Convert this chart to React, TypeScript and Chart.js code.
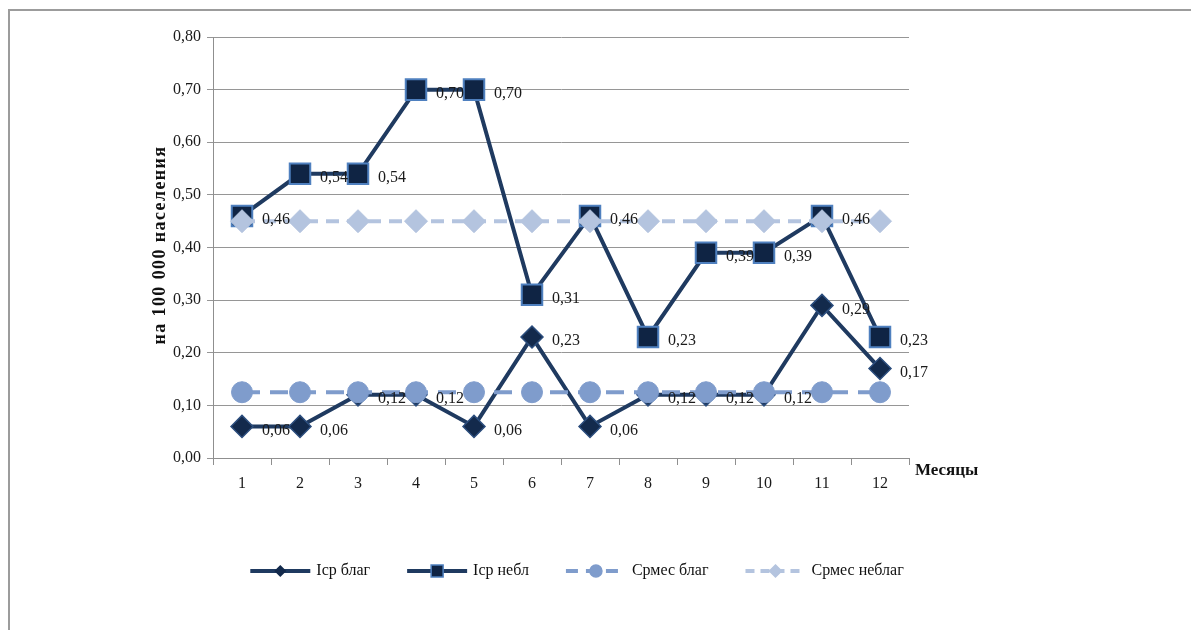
import React, { useEffect, useRef } from "react";
import { Chart, registerables } from "chart.js";

Chart.register(...registerables);

const months = ["1", "2", "3", "4", "5", "6", "7", "8", "9", "10", "11", "12"];
const icpBlag = [0.06, 0.06, 0.12, 0.12, 0.06, 0.23, 0.06, 0.12, 0.12, 0.12, 0.29, 0.17];
const icpNebl = [0.46, 0.54, 0.54, 0.7, 0.7, 0.31, 0.46, 0.23, 0.39, 0.39, 0.46, 0.23];
const srmesBlag = [0.125, 0.125, 0.125, 0.125, 0.125, 0.125, 0.125, 0.125, 0.125, 0.125, 0.125, 0.125];
const srmesNeblag = [0.45, 0.45, 0.45, 0.45, 0.45, 0.45, 0.45, 0.45, 0.45, 0.45, 0.45, 0.45];
const seriesNames = ["Iср благ", "Iср небл", "Срмес благ", "Срмес неблаг"];
const yTitle = "на 100 000 населения";
const xTitle = "Месяцы";

const FONT = "'Liberation Serif', 'Times New Roman', serif";
const fmt = (v: number) => v.toFixed(2).replace(".", ",");

const C_DARK = "#1f3a60";
const C_DIAM = "#132a4c";
const C_SQ = "#0f2444";
const C_SQB = "#4f80bf";
const C_BLAG = "#7f9ccc";
const C_NEBLAG = "#b4c4df";

function drawMarker(ctx: CanvasRenderingContext2D, kind: string, x: number, y: number, r: number, fill: string, stroke: string) {
  ctx.save();
  ctx.setLineDash([]);
  ctx.fillStyle = fill;
  ctx.strokeStyle = stroke;
  ctx.lineWidth = 1.5;
  ctx.beginPath();
  if (kind === "diamond") {
    ctx.moveTo(x, y - r);
    ctx.lineTo(x + r, y);
    ctx.lineTo(x, y + r);
    ctx.lineTo(x - r, y);
    ctx.closePath();
  } else if (kind === "square") {
    ctx.rect(x - r, y - r, 2 * r, 2 * r);
  } else {
    ctx.arc(x, y, r, 0, Math.PI * 2);
  }
  ctx.fill();
  ctx.stroke();
  ctx.restore();
}

const extrasPlugin = {
  id: "extras",
  afterDraw(chart: any) {
    const ctx: CanvasRenderingContext2D = chart.ctx;
    // data labels
    ctx.save();
    ctx.font = `16px ${FONT}`;
    ctx.fillStyle = "#1a1a1a";
    ctx.textAlign = "left";
    ctx.textBaseline = "middle";
    [0, 1].forEach((di) => {
      const meta = chart.getDatasetMeta(di);
      const data = chart.data.datasets[di].data as number[];
      meta.data.forEach((pt: any, i: number) => {
        ctx.fillText(fmt(data[i]), pt.x + 20, pt.y + 4);
      });
    });
    ctx.restore();

    // y title
    ctx.save();
    ctx.font = `bold 18px ${FONT}`;
    (ctx as any).letterSpacing = "1.4px";
    ctx.fillStyle = "#111";
    ctx.textAlign = "center";
    ctx.textBaseline = "middle";
    ctx.translate(160, 245);
    ctx.rotate(-Math.PI / 2);
    ctx.fillText(yTitle, 0, 0);
    ctx.restore();

    // x title
    ctx.save();
    ctx.font = `bold 17px ${FONT}`;
    ctx.fillStyle = "#111";
    ctx.textAlign = "left";
    ctx.textBaseline = "middle";
    ctx.fillText(xTitle, chart.chartArea.right + 6, chart.chartArea.bottom + 13);
    ctx.restore();

    // legend
    ctx.save();
    ctx.font = `16px ${FONT}`;
    const lineLen = 60;
    const gapText = 6;
    const gapItem = 37;
    const widths = seriesNames.map((n) => ctx.measureText(n).width);
    const total = widths.reduce((a, w) => a + lineLen + gapText + w, 0) + gapItem * (seriesNames.length - 1);
    let x = 577 - total / 2;
    const ly = 571;
    const styles = [
      { color: C_DARK, dash: [] as number[], kind: "diamond", r: 5, fill: C_DIAM, stroke: C_DIAM },
      { color: C_DARK, dash: [] as number[], kind: "square", r: 6, fill: C_SQ, stroke: C_SQB },
      { color: C_BLAG, dash: [12, 8], kind: "circle", r: 6, fill: C_BLAG, stroke: C_BLAG },
      { color: C_NEBLAG, dash: [9, 6], kind: "diamond", r: 6, fill: C_NEBLAG, stroke: C_NEBLAG },
    ];
    seriesNames.forEach((name, i) => {
      const s = styles[i];
      ctx.save();
      ctx.strokeStyle = s.color;
      ctx.lineWidth = 4;
      ctx.setLineDash(s.dash);
      ctx.beginPath();
      ctx.moveTo(x, ly);
      ctx.lineTo(x + lineLen, ly);
      ctx.stroke();
      ctx.restore();
      drawMarker(ctx, s.kind, x + lineLen / 2, ly, s.r, s.fill, s.stroke);
      ctx.fillStyle = "#111";
      ctx.textAlign = "left";
      ctx.textBaseline = "middle";
      ctx.fillText(name, x + lineLen + gapText, ly);
      x += lineLen + gapText + widths[i] + gapItem;
    });
    ctx.restore();
  },
};

export default function App() {
  const ref = useRef<HTMLCanvasElement | null>(null);
  useEffect(() => {
    if (!ref.current) return;
    const chart = new Chart(ref.current, {
      type: "line",
      data: {
        labels: months,
        datasets: [
          {
            label: seriesNames[0],
            data: icpBlag,
            borderColor: C_DARK,
            borderWidth: 4,
            pointStyle: "rectRot",
            pointRadius: 11,
            pointBackgroundColor: C_DIAM,
            pointBorderColor: "#2b4d7d",
            pointBorderWidth: 1.5,
            order: 4,
          },
          {
            label: seriesNames[1],
            data: icpNebl,
            borderColor: C_DARK,
            borderWidth: 4,
            pointStyle: "rect",
            pointRadius: 14.5,
            pointBackgroundColor: C_SQ,
            pointBorderColor: C_SQB,
            pointBorderWidth: 2,
            order: 3,
          },
          {
            label: seriesNames[2],
            data: srmesBlag,
            borderColor: C_BLAG,
            borderWidth: 4,
            borderDash: [18, 10],
            pointStyle: "circle",
            pointRadius: 10.5,
            pointBackgroundColor: C_BLAG,
            pointBorderColor: C_BLAG,
            pointBorderWidth: 1,
            order: 2,
          },
          {
            label: seriesNames[3],
            data: srmesNeblag,
            borderColor: C_NEBLAG,
            borderWidth: 4,
            borderDash: [13, 8],
            pointStyle: "rectRot",
            pointRadius: 11.5,
            pointBackgroundColor: C_NEBLAG,
            pointBorderColor: C_NEBLAG,
            pointBorderWidth: 1,
            order: 1,
          },
        ],
      },
      options: {
        animation: false,
        responsive: false,
        devicePixelRatio: 1,
        layout: { padding: { left: 148, top: 37, right: 282, bottom: 142 } },
        plugins: { legend: { display: false }, tooltip: { enabled: false } },
        elements: { line: { tension: 0 } },
        scales: {
          x: {
            offset: true,
            grid: {
              offset: true,
              drawOnChartArea: false,
              drawTicks: true,
              tickLength: 7,
              color: "#8f8f8f",
            },
            border: { display: true, color: "#8f8f8f", width: 1 },
            ticks: { color: "#1a1a1a", font: { family: FONT, size: 16 }, padding: 9, maxRotation: 0 },
            afterFit: (s: any) => {
              s.height = 30;
            },
          },
          y: {
            min: 0,
            max: 0.8,
            ticks: {
              stepSize: 0.1,
              color: "#1a1a1a",
              font: { family: FONT, size: 16 },
              padding: 6,
              callback: (v: any) => fmt(Number(v)),
            },
            grid: { color: "#969696", tickLength: 6, lineWidth: 1 },
            border: { display: true, color: "#8f8f8f", width: 1 },
            afterFit: (s: any) => {
              s.width = 65;
            },
          },
        },
      },
      plugins: [extrasPlugin],
    });
    return () => chart.destroy();
  }, []);

  return (
    <div style={{ position: "fixed", left: 0, top: 0, width: 1191, height: 630, background: "#fff", overflow: "hidden" }}>
      <div
        style={{
          position: "absolute",
          left: 8,
          top: 9,
          width: 1200,
          height: 640,
          border: "2px solid #9c9c9c",
          boxSizing: "border-box",
        }}
      />
      <canvas ref={ref} width={1191} height={630} style={{ position: "absolute", left: 0, top: 0 }} />
    </div>
  );
}
